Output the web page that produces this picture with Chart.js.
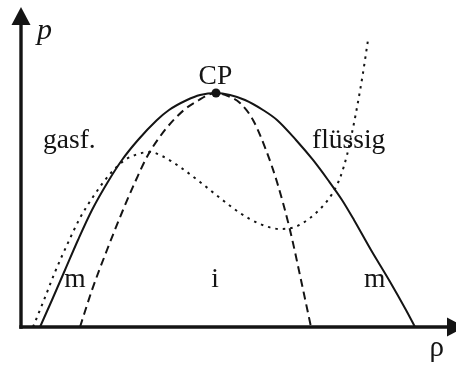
<!DOCTYPE html>
<html>
<head>
<meta charset="utf-8">
<style>
  html, body { margin: 0; padding: 0; background: #fff; }
  #c { display: block; }
</style>
<script src="https://cdn.jsdelivr.net/npm/chart.js@4"></script>
</head>
<body>
<canvas id="c" width="456" height="365"></canvas>
<script>
// Reduced density (rho) and reduced pressure (p); the critical point sits at p = 1.
const binodalRho = [0.0475, 0.0775, 0.11, 0.1425, 0.1775, 0.22, 0.2525, 0.2925, 0.34, 0.37, 0.415, 0.4475, 0.4875,
                    0.5225, 0.56, 0.605, 0.64, 0.6875, 0.73, 0.7675, 0.8025, 0.8325, 0.875, 0.92, 0.9625, 0.985];
const binodalP   = [0, 0.1154, 0.2436, 0.3718, 0.5, 0.6282, 0.7137, 0.7991, 0.8846, 0.9274, 0.9701, 0.9915, 1,
                    0.9915, 0.9701, 0.9274, 0.8846, 0.7991, 0.7137, 0.6282, 0.5427, 0.4573, 0.3291, 0.2009, 0.0726, 0];

const spinodalRho = [0.1475, 0.1775, 0.215, 0.255, 0.2875, 0.3175, 0.36, 0.4075, 0.445, 0.4675, 0.4875,
                     0.5175, 0.5475, 0.58, 0.6125, 0.64, 0.6725, 0.7, 0.725];
const spinodalP   = [0, 0.1581, 0.3291, 0.5, 0.6282, 0.735, 0.8419, 0.9274, 0.9701, 0.9915, 1,
                     0.9872, 0.9573, 0.8846, 0.7564, 0.6197, 0.4145, 0.2009, 0];

const isothermRho = [0.03, 0.0575, 0.085, 0.115, 0.1475, 0.185, 0.2225, 0.26, 0.2925, 0.3225, 0.3525, 0.3975, 0.4475,
                     0.4975, 0.5475, 0.5975, 0.6475, 0.685, 0.7225, 0.7525, 0.7775, 0.7975, 0.815, 0.83, 0.8425, 0.855, 0.8675];
const isothermP   = [0, 0.1154, 0.235, 0.3504, 0.4658, 0.5684, 0.6538, 0.7137, 0.7393, 0.7479, 0.7308, 0.6838, 0.6197,
                     0.5513, 0.4872, 0.4402, 0.4188, 0.4274, 0.4658, 0.5128, 0.5684, 0.6368, 0.735, 0.8504, 0.9615, 1.0855, 1.2265];

const criticalPoint = { rho: 0.4875, p: 1 };

// Region labels: [text, rho, p, alignment]
const regionLabels = [
  ['gasf.',   0.055,  0.765, 'left'],
  ['flüssig', 0.7275, 0.765, 'left'],
  ['CP',      0.486,  1.0385, 'center'],
  ['m',       0.135,  0.171, 'center'],
  ['i',       0.485,  0.171, 'center'],
  ['m',       0.884,  0.171, 'center']
];

const toPoints = (xs, ys) => xs.map((x, i) => ({ x: x, y: ys[i] }));

const ink = '#141414';
const serif = '"Liberation Serif", "DejaVu Serif", serif';

const axesAndLabels = {
  id: 'axesAndLabels',
  afterDatasetsDraw(chart) {
    const ctx = chart.ctx;
    const xs = chart.scales.x, ys = chart.scales.y;
    const area = chart.chartArea;
    const x0 = xs.getPixelForValue(0);
    const y0 = ys.getPixelForValue(0);

    ctx.save();
    ctx.strokeStyle = ink;
    ctx.fillStyle = ink;
    ctx.lineWidth = 3.4;
    ctx.lineCap = 'butt';

    // vertical p axis with arrow
    const topTip = area.top + 7;
    ctx.beginPath();
    ctx.moveTo(x0, y0 + 1.7);
    ctx.lineTo(x0, topTip + 14);
    ctx.stroke();
    ctx.beginPath();
    ctx.moveTo(x0, topTip);
    ctx.lineTo(x0 - 9.5, topTip + 18);
    ctx.lineTo(x0 + 9.5, topTip + 18);
    ctx.closePath();
    ctx.fill();

    // horizontal rho axis with arrow
    const rightTip = area.right + 9;
    ctx.beginPath();
    ctx.moveTo(x0 - 1.7, y0);
    ctx.lineTo(rightTip - 14, y0);
    ctx.stroke();
    ctx.beginPath();
    ctx.moveTo(rightTip, y0);
    ctx.lineTo(rightTip - 18, y0 - 9.5);
    ctx.lineTo(rightTip - 18, y0 + 9.5);
    ctx.closePath();
    ctx.fill();

    // axis names
    ctx.textBaseline = 'alphabetic';
    ctx.textAlign = 'left';
    ctx.font = 'italic 30px ' + serif;
    ctx.fillText('p', x0 + 16, topTip + 32);
    ctx.font = '29px ' + serif;
    ctx.textAlign = 'right';
    ctx.fillText('ρ', area.right - 12, y0 + 29);

    // region labels
    ctx.font = '27.5px ' + serif;
    regionLabels.forEach(([t, r, p, align]) => {
      ctx.textAlign = align;
      ctx.fillText(t, xs.getPixelForValue(r), ys.getPixelForValue(p));
    });
    ctx.restore();
  }
};

const curve = (label, xs, ys, dash) => ({
  label: label,
  data: toPoints(xs, ys),
  showLine: true,
  borderColor: ink,
  borderWidth: 2,
  borderDash: dash,
  pointRadius: 0,
  cubicInterpolationMode: 'monotone'
});

new Chart(document.getElementById('c'), {
  type: 'scatter',
  data: {
    datasets: [
      curve('Binodale', binodalRho, binodalP, []),
      curve('Spinodale', spinodalRho, spinodalP, [8, 5]),
      curve('Isotherme', isothermRho, isothermP, [2.5, 5]),
      {
        label: 'CP',
        data: [{ x: criticalPoint.rho, y: criticalPoint.p }],
        showLine: false,
        pointRadius: 4.5,
        pointBackgroundColor: ink,
        pointBorderColor: ink,
        borderWidth: 0
      }
    ]
  },
  options: {
    responsive: false,
    animation: false,
    devicePixelRatio: 1,
    layout: { padding: 0, autoPadding: false },
    plugins: { legend: { display: false }, tooltip: { enabled: false } },
    scales: {
      x: { type: 'linear', display: false, min: -0.0525, max: 1.0875 },
      y: { type: 'linear', display: false, min: -0.1624, max: 1.3974 }
    }
  },
  plugins: [axesAndLabels]
});
</script>
</body>
</html>
